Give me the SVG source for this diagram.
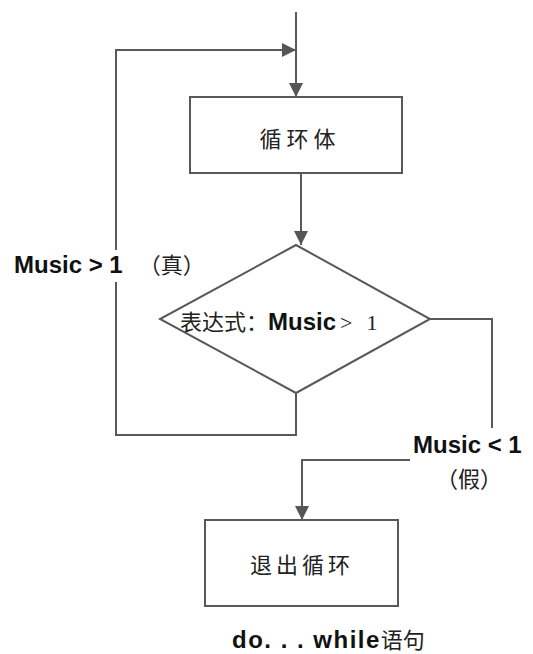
<svg xmlns="http://www.w3.org/2000/svg" width="533" height="654" viewBox="0 0 533 654">
<style>
.ln{fill:none;stroke:#595959;stroke-width:2}
.nd{fill:#fff;stroke:#595959;stroke-width:2}
.cn{font-family:"Noto Sans CJK SC",sans-serif;font-size:22px;fill:#222}
.sf{font-family:"Liberation Serif","Noto Sans CJK SC",serif;font-size:22px;fill:#222}
.b{font-family:"Liberation Sans",Arial,sans-serif;font-weight:bold;font-size:24px;fill:#111}
</style>
<defs>
<marker id="ah" viewBox="0 0 10 10" refX="10" refY="5" markerWidth="14" markerHeight="14" markerUnits="userSpaceOnUse" orient="auto">
<path d="M0,0 L10,5 L0,10 z" fill="#555"/>
</marker>
</defs>
<g id="connectors">
<path class="ln" d="M296,12 L296,97" marker-end="url(#ah)"/>
<path class="ln" d="M296,393 L296,435 L116,435 L116,50 L296,50" marker-end="url(#ah)"/>
<path class="ln" d="M301,173 L301,245" marker-end="url(#ah)"/>
<path class="ln" d="M430,319 L492,319 L492,428"/>
<path class="ln" d="M430,460 L302,460 L302,520" marker-end="url(#ah)"/>
</g>
<g id="loop-body">
<rect class="nd" x="190" y="97" width="212" height="76"/>
<text class="cn" x="300" y="147" text-anchor="middle" letter-spacing="5">循环体</text>
</g>
<g id="condition">
<polygon class="nd" points="296,245 430,319 296,393 160,319"/>
<text x="180" y="330"><tspan class="sf" font-size="24">表达式：</tspan><tspan class="b">Music</tspan><tspan class="sf" font-size="24" dx="4">&gt;</tspan><tspan class="sf" font-size="24" dx="14">1</tspan></text>
</g>
<g id="exit">
<rect class="nd" x="205" y="520" width="193" height="86"/>
<text class="cn" x="302" y="573" text-anchor="middle" letter-spacing="4">退出循环</text>
</g>
<g id="labels">
<rect x="12" y="250" width="200" height="32" fill="#fff"/>
<text x="14" y="273"><tspan class="b">Music &gt; 1</tspan><tspan class="sf" dx="16">（真）</tspan></text>
<rect x="410" y="430" width="120" height="32" fill="#fff"/>
<text class="b" x="413" y="453">Music &lt; 1</text>
<text class="cn" x="469" y="487" text-anchor="middle">（假）</text>
<text x="232" y="648"><tspan class="b" letter-spacing="1.5">do. . . while</tspan><tspan class="cn" font-size="24">语句</tspan></text>
</g>
</svg>
